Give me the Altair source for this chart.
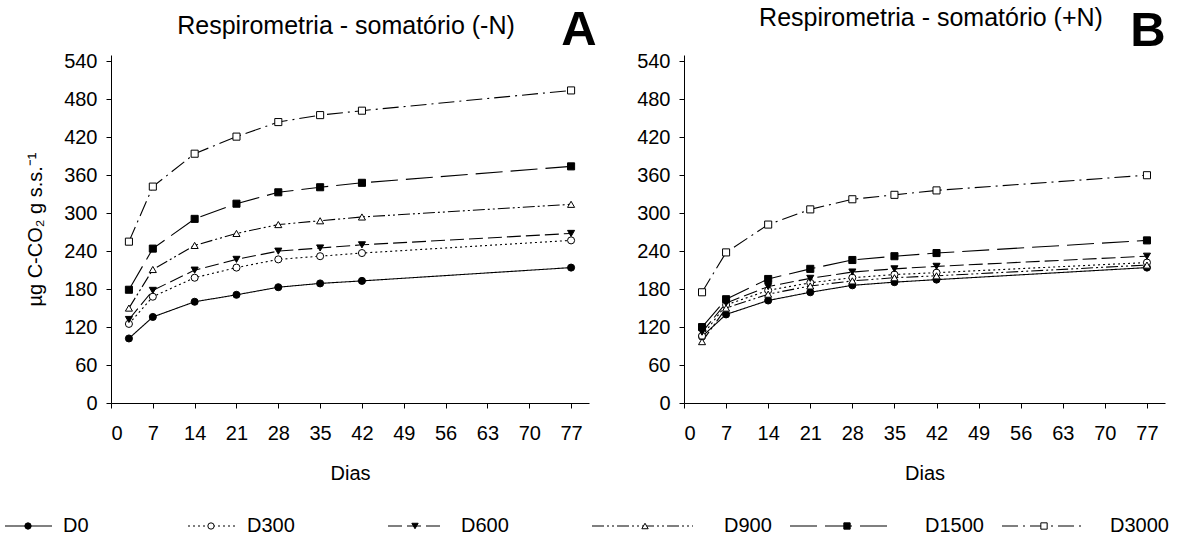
import altair as alt
import pandas as pd

# ---- data ----
dias = [3, 7, 14, 21, 28, 35, 42, 77]
series = ["D0", "D300", "D600", "D900", "D1500", "D3000"]

menos_n = {
    "D0":    [102, 136, 160, 171, 183, 189, 193, 214],
    "D300":  [125, 168, 198, 214, 227, 232, 237, 257],
    "D600":  [132, 178, 210, 227, 240, 245, 250, 268],
    "D900":  [150, 211, 249, 268, 282, 288, 294, 314],
    "D1500": [179, 244, 291, 315, 333, 341, 348, 374],
    "D3000": [255, 342, 394, 421, 444, 455, 462, 494],
}
mais_n = {
    "D0":    [105, 140, 162, 175, 186, 191, 195, 214],
    "D300":  [106, 155, 178, 190, 198, 203, 206, 222],
    "D600":  [112, 158, 184, 197, 207, 212, 216, 232],
    "D900":  [97, 150, 172, 185, 193, 198, 201, 218],
    "D1500": [120, 164, 196, 212, 226, 232, 237, 257],
    "D3000": [175, 238, 282, 306, 322, 329, 336, 360],
}

x_ticks = [0, 7, 14, 21, 28, 35, 42, 49, 56, 63, 70, 77]
y_ticks = [0, 60, 120, 180, 240, 300, 360, 420, 480, 540]
titles = ["Respirometria - somatório (-N)", "Respirometria - somatório (+N)"]
letters = ["A", "B"]
y_title = "µg C-CO₂ g s.s.⁻¹"
x_title = "Dias"

# ---- styles ----
FONT = "Liberation Sans"
dashes = [[1, 0], [2, 3], [14, 5], [12, 3, 2, 3, 2, 3], [27, 8], [16, 5, 2, 5]]
shapes = ["circle", "circle", "triangle-down", "triangle-up", "square", "square"]
fills = ["black", "white", "black", "white", "black", "white"]

# legend layout (page pixels)
leg_line_start = [5, 188, 388, 592, 790, 1002]
leg_line_end = [52, 237, 442, 693, 892, 1085]
leg_marker = [28, 211, 415, 645, 847, 1044]
leg_label = [63, 247, 461, 724, 925, 1110]


def to_long(d):
    rows = []
    for s in series:
        for x, v in zip(dias, d[s]):
            rows.append({"dia": x, "valor": v, "serie": s})
    return pd.DataFrame(rows)


dash_scale = alt.Scale(domain=series, range=dashes)
shape_scale = alt.Scale(domain=series, range=shapes)
fill_scale = alt.Scale(domain=series, range=fills)


def panel(d, title, letter, show_ytitle, width, title_x, title_y, letter_x, letter_y):
    df = to_long(d)
    x = alt.X("dia:Q", scale=alt.Scale(domain=[0, 80], nice=False),
              axis=alt.Axis(values=x_ticks, title=x_title, format="d"))
    y = alt.Y("valor:Q", scale=alt.Scale(domain=[0, 550], nice=False),
              axis=alt.Axis(values=y_ticks, title=y_title if show_ytitle else None, format="d"))
    lines = alt.Chart(df).mark_line(color="black", strokeWidth=1.1).encode(
        x=x, y=y, detail="serie:N",
        strokeDash=alt.StrokeDash("serie:N", scale=dash_scale, legend=None),
    )
    pts = alt.Chart(df).mark_point(filled=True, stroke="black", strokeWidth=1, opacity=1, size=50).encode(
        x=x, y=y,
        shape=alt.Shape("serie:N", scale=shape_scale, legend=None),
        fill=alt.Fill("serie:N", scale=fill_scale, legend=None),
    )
    ttl = alt.Chart(pd.DataFrame({"t": [title]})).mark_text(
        font=FONT, fontSize=25, align="center", baseline="alphabetic", color="black"
    ).encode(text="t:N", x=alt.value(title_x), y=alt.value(title_y))
    let = alt.Chart(pd.DataFrame({"t": [letter]})).mark_text(
        font=FONT, fontSize=49, fontWeight="bold", align="center", baseline="alphabetic", color="black"
    ).encode(text="t:N", x=alt.value(letter_x), y=alt.value(letter_y))
    return alt.layer(lines, pts, ttl, let).properties(width=width, height=348)


left = panel(menos_n, titles[0], letters[0], True, 478, 235, -21, 468, -10)
right = panel(mais_n, titles[1], letters[1], False, 481, 247, -29, 464, -9)

top = alt.hconcat(left, right, spacing=39)

# ---- custom legend ----
P0 = 111  # page x of legend chart origin (aligned with left plot origin)
W = 1177 - P0
leg_df = pd.DataFrame({
    "serie": series,
    "x0": leg_line_start,
    "x1": leg_line_end,
    "xm": leg_marker,
    "xl": leg_label,
})
lx = alt.Scale(domain=[P0, 1177], range=[0, W])
leg_lines = alt.Chart(leg_df).mark_rule(color="black", strokeWidth=1.1).encode(
    x=alt.X("x0:Q", scale=lx, axis=None), x2="x1:Q", y=alt.value(10),
    strokeDash=alt.StrokeDash("serie:N", scale=dash_scale, legend=None),
)
leg_pts = alt.Chart(leg_df).mark_point(filled=True, stroke="black", strokeWidth=1, opacity=1, size=40).encode(
    x=alt.X("xm:Q", scale=lx, axis=None), y=alt.value(10),
    shape=alt.Shape("serie:N", scale=shape_scale, legend=None),
    fill=alt.Fill("serie:N", scale=fill_scale, legend=None),
)
leg_txt = alt.Chart(leg_df).mark_text(
    font=FONT, fontSize=20, align="left", baseline="middle", color="black"
).encode(x=alt.X("xl:Q", scale=lx, axis=None), y=alt.value(10), text="serie:N")
legend = alt.layer(leg_lines, leg_pts, leg_txt).properties(width=W - 10, height=20)

chart = alt.vconcat(top, legend, spacing=33).properties(
    padding={"left": 4, "top": 6, "right": 0, "bottom": 0}
).configure_view(stroke=None).configure_axis(
    domainColor="black", tickColor="black", labelColor="black", titleColor="black",
    labelFont=FONT, titleFont=FONT, labelFontSize=20, titleFontSize=20,
    titleFontWeight="normal", grid=False, tickSize=5, labelPadding=9,
    domainWidth=1, tickWidth=1,
).configure_axisX(titlePadding=20, labelPadding=15).configure_axisY(titlePadding=18)

chart.save("out.html", embed_options={"renderer": "svg", "actions": False})
